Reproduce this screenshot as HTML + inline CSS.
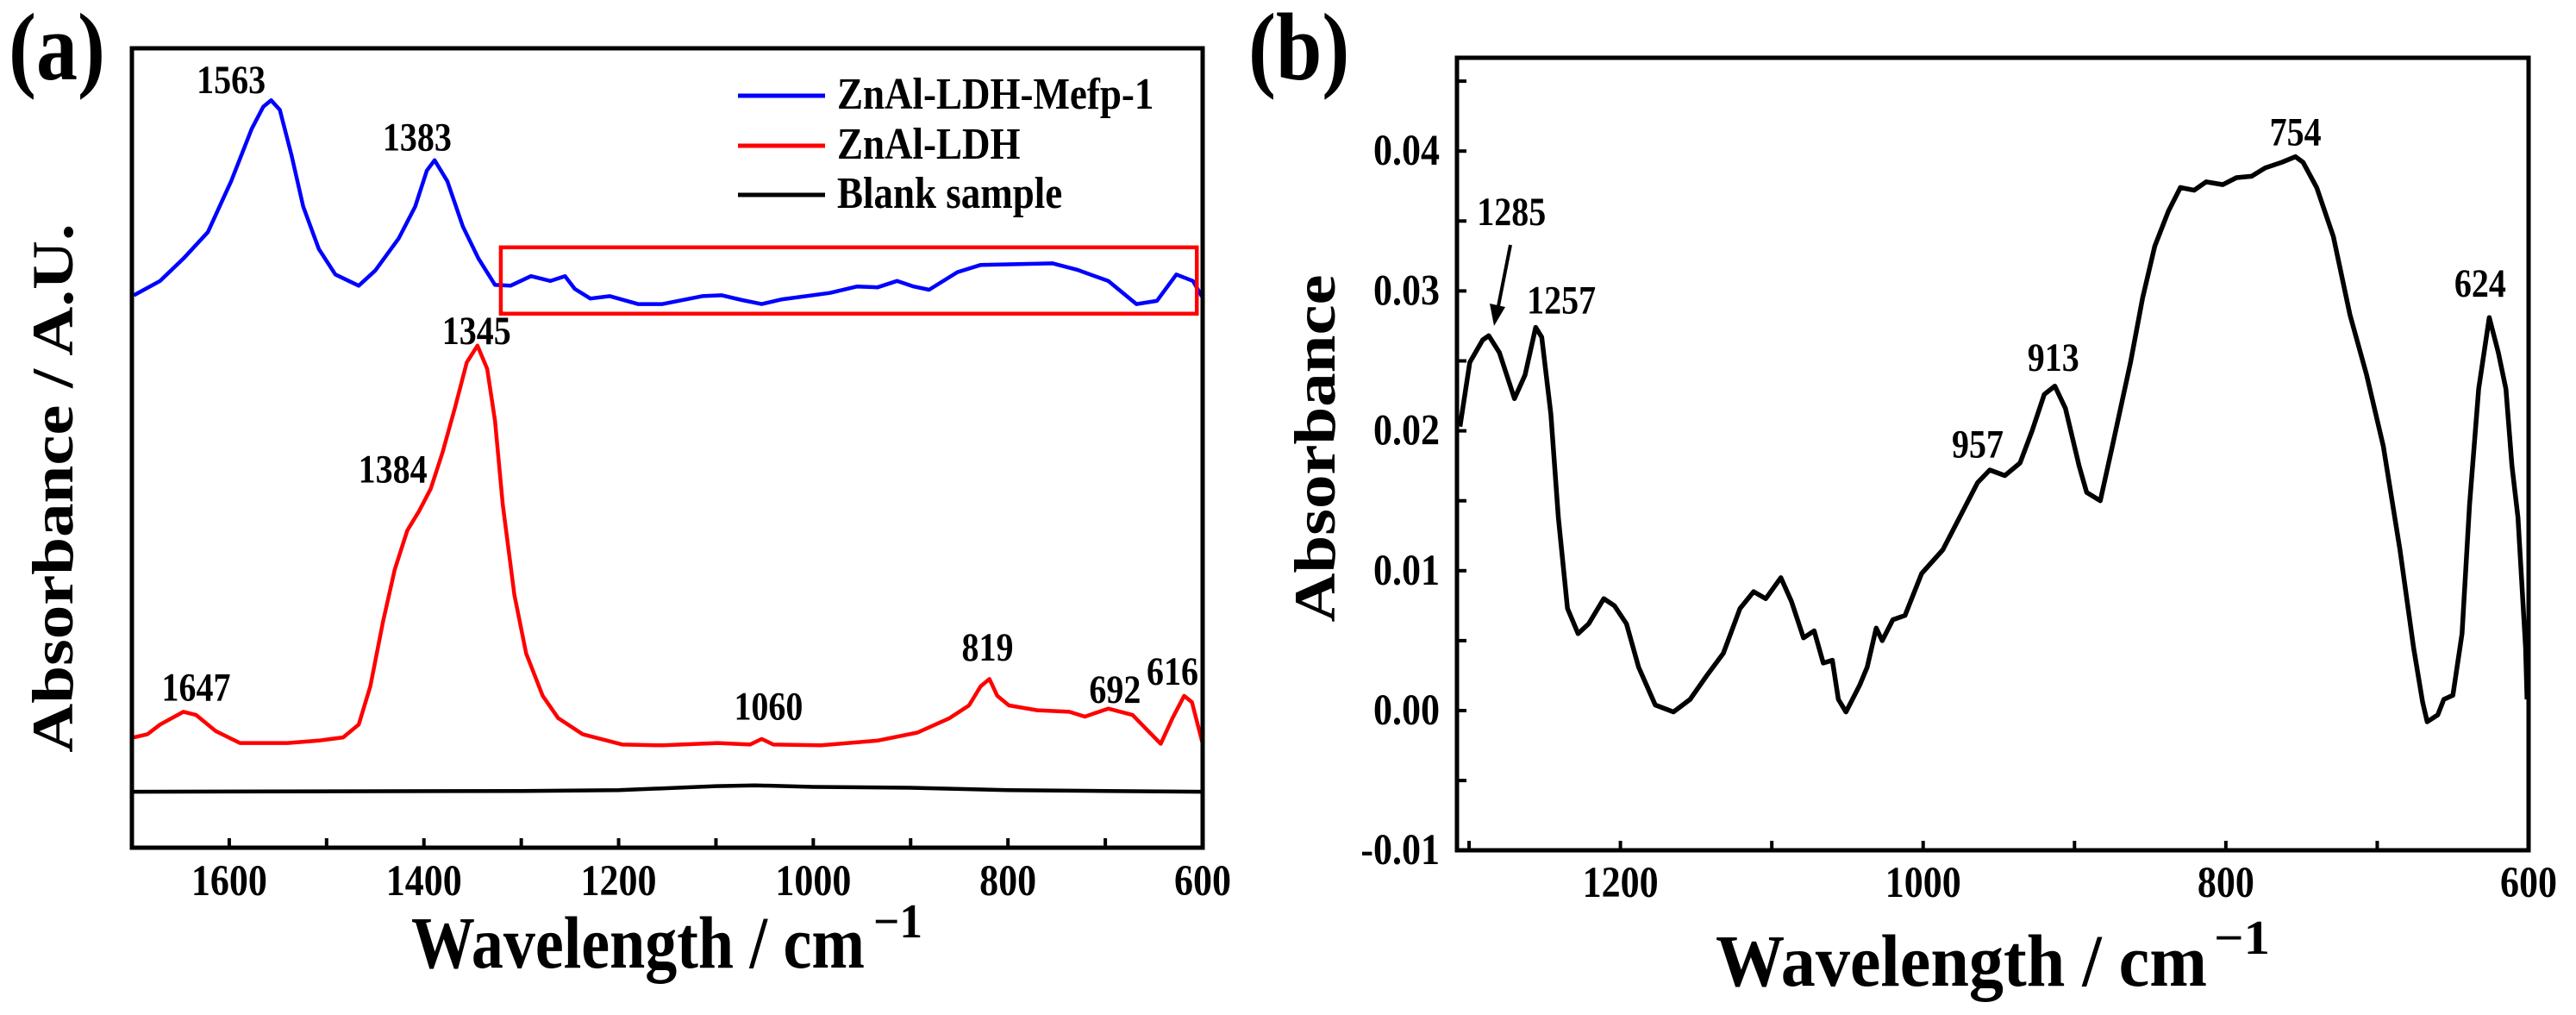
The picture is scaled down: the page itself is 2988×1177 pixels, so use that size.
<!DOCTYPE html>
<html><head><meta charset="utf-8"><style>
html,body{margin:0;padding:0;background:#fff;}
svg{display:block;font-family:"Liberation Serif",serif;font-weight:bold;}
</style></head><body>
<svg id="fig" width="2988" height="1177" viewBox="0 0 2988 1177" xmlns="http://www.w3.org/2000/svg">
<g id="pa"></g>
<g id="pb"></g>
</svg>
<script>
// ---- Panel (a) data ----
const aBlueWn=[1698,1671,1647,1622,1598,1577,1565,1557,1548,1536,1524,1508,1491,1467,1450,1426,1409,1397,1389,1376,1360,1344,1327,1311,1290,1270,1255,1245,1229,1209,1180,1155,1114,1094,1073,1053,1032,983,955,934,914,897,881,852,828,754,729,697,668,647,627,610,600];
const aBlueVal=[69.1,70.9,73.7,77.0,83.4,89.9,92.7,93.5,92.3,86.6,80.2,74.9,71.7,70.3,72.2,76.2,80.2,84.7,86.0,83.4,77.7,73.7,70.4,70.3,71.5,70.9,71.5,69.9,68.7,69.0,68.0,68.0,69.0,69.1,68.5,68.0,68.6,69.4,70.2,70.1,70.9,70.2,69.8,72.0,72.9,73.1,72.3,70.9,68.0,68.4,71.7,70.9,68.8];
const aRedWn=[1698,1684,1671,1647,1634,1614,1589,1565,1540,1508,1483,1467,1455,1442,1430,1417,1405,1393,1381,1368,1356,1345,1335,1327,1319,1307,1295,1278,1262,1237,1196,1155,1098,1065,1053,1041,992,934,893,860,840,828,819,811,799,770,737,721,697,672,656,643,631,619,611,600];
const aRedVal=[13.8,14.2,15.4,17.0,16.6,14.6,13.1,13.1,13.1,13.4,13.8,15.4,20.2,28.3,34.8,39.7,42.1,44.9,49.4,55.1,60.7,62.8,59.9,53.4,42.9,31.6,24.3,19.0,16.2,14.2,12.9,12.8,13.1,12.9,13.6,12.9,12.8,13.4,14.4,16.2,17.8,20.2,21.1,19.0,17.8,17.2,17.0,16.4,17.4,16.6,14.6,13.0,16.2,19.0,18.2,13.0];
const aBlackWn=[1700,1300,1200,1100,1060,1000,900,800,700,600];
const aBlackVal=[7.0,7.1,7.2,7.7,7.8,7.6,7.5,7.2,7.1,7.0];
const aTicks=[1600,1400,1200,1000,800,600];
const aPeakLabels=["1563","1383","1345","1384","1647","1060","819","692","616"];
const aPeakWn=[1598,1407,1346,1432,1634,1046,821,690,631];
const aPeakVal=[94.4,87.2,63.0,45.7,18.4,16.0,23.4,18.1,20.4];
// ---- Panel (b) data ----
const bWn=[1306,1299.5,1291,1287,1280,1270,1263,1256,1252,1246,1241,1235,1228,1221,1211,1204,1196,1188,1177,1165,1154,1143,1132,1121,1112,1104,1094,1087,1079,1072,1066,1060,1056,1051,1042,1037,1031,1027,1020,1012,1001,987,975,964,956,946,936,928,920,913,906,897,892,883,875,863,855,847,838,830,821,813,802,793,783,774,763,754,749,740,729,718,707,696,685,676,670,667,660,656,650,644,639,633,626,620,615,611,607,602,601];
const bVal=[0.0203,0.0249,0.0265,0.0268,0.0256,0.0223,0.0240,0.0274,0.0267,0.0212,0.0138,0.0073,0.0055,0.0062,0.0080,0.0075,0.0062,0.0031,0.0004,-0.0001,0.0008,0.0025,0.0041,0.0073,0.0085,0.0080,0.0095,0.0078,0.0052,0.0057,0.0034,0.0036,0.0008,-0.0001,0.0018,0.0031,0.0059,0.0050,0.0065,0.0068,0.0098,0.0115,0.0140,0.0163,0.0172,0.0168,0.0177,0.0200,0.0226,0.0232,0.0216,0.0175,0.0156,0.0150,0.0189,0.0249,0.0295,0.0332,0.0357,0.0374,0.0372,0.0378,0.0376,0.0381,0.0382,0.0388,0.0392,0.0396,0.0392,0.0374,0.0339,0.0283,0.0240,0.0189,0.0115,0.0045,0.0006,-0.0008,-0.0003,0.0008,0.0011,0.0055,0.0147,0.0230,0.0281,0.0256,0.0230,0.0175,0.0138,0.0045,0.0008];
const bXTicks=[1200,1000,800,600];
const bYTicks=[-0.01,0.00,0.01,0.02,0.03,0.04];
const bYTickLabels=["-0.01","0.00","0.01","0.02","0.03","0.04"];
const bPeakLabels=["1285","1257","957","913","754","624"];
const bPeakWn=[1272,1239,964,914,754,632];
const bPeakVal=[0.0347,0.0284,0.0181,0.0243,0.0404,0.0296];

const NS="http://www.w3.org/2000/svg";
const SY=1.16;
function mk(parent,tag,attrs,text){const e=document.createElementNS(NS,tag);for(const k in attrs)e.setAttribute(k,attrs[k]);if(text!==undefined)e.textContent=text;parent.appendChild(e);return e;}
function txt(parent,x,y,size,anchor,str,rot,len){
  const tf=rot?`translate(${x},${y}) rotate(-90) scale(${SY},1)`:`translate(${x},${y}) scale(1,${SY})`;
  const at={x:0,y:0,'font-size':size,'text-anchor':anchor,transform:tf};
  if(len){at.textLength=len;at.lengthAdjust='spacingAndGlyphs';}
  return mk(parent,'text',at,str);
}

// Panel a scales
const A={l:153,r:1395,t:56,b:983};
const ax=w=>A.l+(1700-w)/1100*(A.r-A.l);
const ay=v=>A.b-v/100*(A.b-A.t);
const pa=document.getElementById('pa');
function line(parent,wn,val,fx,fy,color,sw,name){
  const pts=wn.map((w,i)=>fx(w).toFixed(1)+","+fy(val[i]).toFixed(1)).join(" ");
  const p=mk(parent,'polyline',{points:pts,fill:'none',stroke:color,'stroke-width':sw,'stroke-linejoin':'round'});
  
  
}
line(pa,aBlackWn,aBlackVal,ax,ay,'#000',4.5,'blank-sample-line');
line(pa,aRedWn,aRedVal,ax,ay,'#f00',4.5,'znal-ldh-line');
line(pa,aBlueWn,aBlueVal,ax,ay,'#00f',4.5,'znal-ldh-mefp-line');
const rect=mk(pa,'rect',{x:ax(1321),y:ay(75.1),width:ax(606)-ax(1321),height:ay(66.8)-ay(75.1),fill:'none',stroke:'#f00','stroke-width':4.5});


for(let w=1700;w>=600;w-=100){const t=mk(pa,'line',{x1:ax(w),x2:ax(w),y1:A.b,y2:A.b-11,stroke:'#000','stroke-width':4});

}
aTicks.forEach(w=>{const t=txt(pa,ax(w),1038,44,'middle',String(w));

});
aPeakLabels.forEach((s,i)=>{const t=txt(pa,ax(aPeakWn[i]),ay(aPeakVal[i]),40,'middle',s);

});
const fa=mk(pa,'rect',{x:A.l,y:A.t,width:A.r-A.l,height:A.b-A.t,fill:'none',stroke:'#000','stroke-width':5});


// legend
const legC=['#00f','#f00','#000'],legT=['ZnAl-LDH-Mefp-1','ZnAl-LDH','Blank sample'],legY=[111,169,226];
legT.forEach((s,i)=>{const g=mk(pa,'g',{});


mk(g,'line',{x1:856,x2:957,y1:legY[i],y2:legY[i],stroke:legC[i],'stroke-width':5});
txt(g,971,legY[i]+15,45,'start',s);});
const ta=txt(pa,477,1122,74,'start','Wavelength / cm',false,526);


txt(pa,1013,1087,48,'start','\u22121',false,57);
const ya=txt(pa,84,566,68,'middle','Absorbance / A.U.',true);


const la=txt(pa,10,92,96,'start','(a)');



// Panel b
const B={l:1690,r:2933,t:67,b:986};
const bx=w=>B.l+(1308-w)/708*(B.r-B.l);
const by=v=>824-v/0.01*162.2;
const pb=document.getElementById('pb');
line(pb,bWn,bVal,bx,by,'#000',5.5,'absorbance-line');
for(let w=1300;w>=600;w-=100){const t=mk(pb,'line',{x1:bx(w),x2:bx(w),y1:B.b,y2:B.b-11,stroke:'#000','stroke-width':4});

}
for(let k=-2;k<=9;k++){const v=k*0.005;const t=mk(pb,'line',{x1:B.l,x2:B.l+11,y1:by(v),y2:by(v),stroke:'#000','stroke-width':4});

}
bXTicks.forEach(w=>{const t=txt(pb,bx(w),1040,44,'middle',String(w));

});
bYTicks.forEach((v,i)=>{const t=txt(pb,1670,by(v)+16,44,'end',bYTickLabels[i]);

});
bPeakLabels.forEach((s,i)=>{const t=txt(pb,bx(bPeakWn[i]),by(bPeakVal[i]),40,'middle',s);

});
const ar=mk(pb,'g',{});


mk(ar,'line',{x1:1752,y1:284,x2:1737,y2:360,stroke:'#000','stroke-width':4});
mk(ar,'polygon',{points:'1733,378 1728,352 1746,356',fill:'#000'});
const fb=mk(pb,'rect',{x:B.l,y:B.t,width:B.r-B.l,height:B.b-B.t,fill:'none',stroke:'#000','stroke-width':5});


const tb=txt(pb,1990,1143,74,'start','Wavelength / cm',false,570);


txt(pb,2568,1106,48,'start','\u22121',false,65);
const yb=txt(pb,1548,520,68,'middle','Absorbance',true);


const lb=txt(pb,1448,92,96,'start','(b)');


</script>
</body></html>
